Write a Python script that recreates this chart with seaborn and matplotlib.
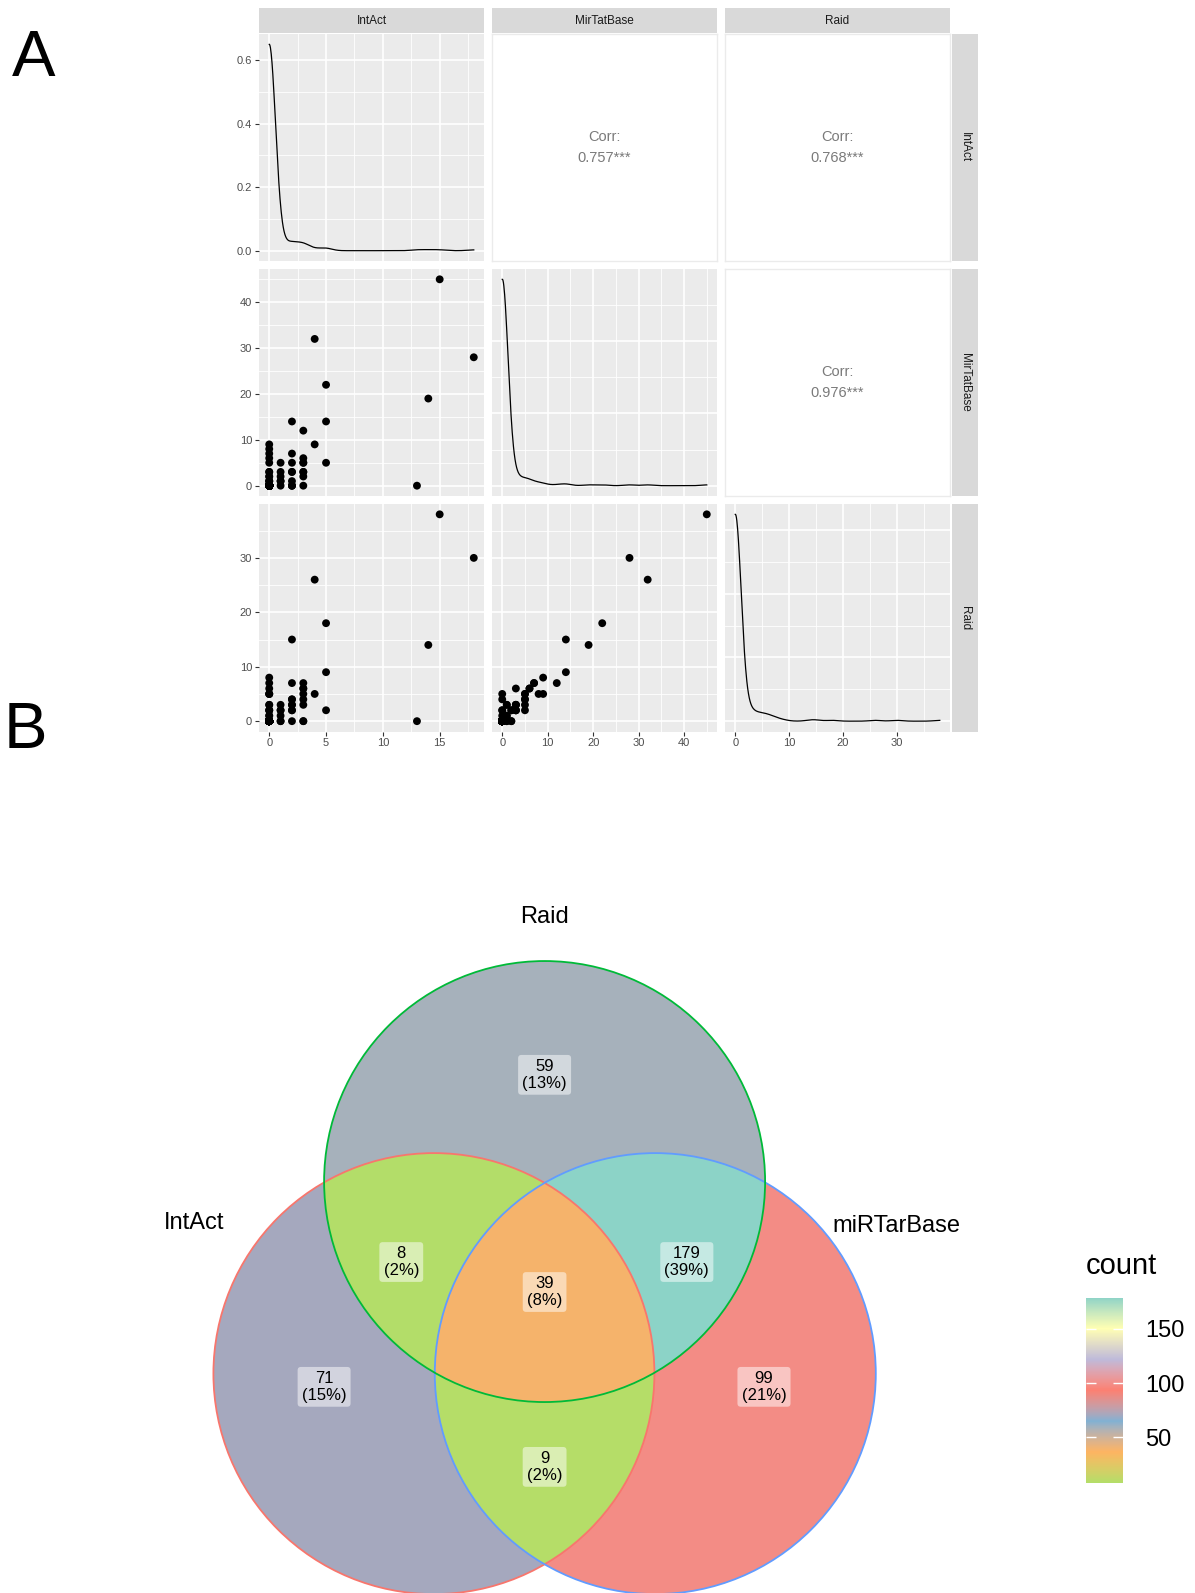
import numpy as np
import pandas as pd
import matplotlib
matplotlib.use("Agg")
import matplotlib.pyplot as plt
import seaborn as sns
from matplotlib.colors import ListedColormap, Normalize, to_rgb
from matplotlib.ticker import MultipleLocator, AutoMinorLocator, MaxNLocator, FormatStrFormatter
from matplotlib.patches import Circle

plt.rcParams['font.family'] = ['Liberation Sans', 'DejaVu Sans']

# ---------------- Panel A data (IntAct, MirTatBase, Raid per item) ----------------
var_names = ["IntAct", "MirTatBase", "Raid"]
intact     = [15, 18, 4, 5, 14, 2, 5, 3, 13, 4, 0, 5, 0, 2, 0, 3, 0, 3, 3, 2,
              1, 0, 2, 3, 0, 3, 2, 2, 2, 2, 1, 1, 1, 1, 1, 0, 0, 0, 0, 2,
              0, 3, 3, 0, 0, 0, 0, 0]
mirtatbase = [45, 28, 32, 22, 19, 14, 14, 12, 0, 9, 9, 5, 8, 7, 7, 6, 6, 5, 5, 5,
              5, 5, 3, 3, 3, 2, 1, 0, 0, 3, 0, 1, 2, 3, 1, 1, 2, 3, 0, 0,
              0, 0, 3, 0, 1, 2, 0, 1]
raid       = [38, 30, 26, 18, 14, 15, 9, 7, 0, 5, 8, 2, 5, 7, 7, 6, 6, 5, 4, 4,
              3, 5, 3, 6, 2, 0, 3, 0, 2, 2, 0, 1, 2, 2, 0, 1, 2, 3, 1, 4,
              5, 0, 3, 0, 0, 0, 2, 3]
copies     = [1, 1, 1, 1, 1, 1, 1, 1, 1, 1, 1, 1, 1, 1, 1, 1, 1, 1, 1, 1,
              1, 1, 1, 1, 1, 1, 1, 1, 1, 1, 1, 1, 1, 1, 1, 1, 1, 1, 1, 1,
              1, 1, 1, 250, 1, 1, 1, 1]
corr_values = {(0, 1): 0.757, (0, 2): 0.768, (1, 2): 0.976}

# ---------------- Panel B data (Venn) ----------------
set_names = ["IntAct", "miRTarBase", "Raid"]
# membership (IntAct, miRTarBase, Raid) -> count
region_members = [(1, 0, 0), (0, 1, 0), (0, 0, 1), (1, 0, 1), (0, 1, 1), (1, 1, 0), (1, 1, 1)]
region_counts  = [71, 99, 59, 8, 179, 9, 39]
palette_stops = ['#B3DE69', '#FDB462', '#80B1D3', '#FB8072', '#BEBADA', '#FFFFB3', '#8DD3C7']
cbar_ticks = [50, 100, 150]

# ---------------- figure ----------------
W, H = 1195, 1593
fig = plt.figure(figsize=(W / 100, H / 100), dpi=100)
fig.patch.set_facecolor('white')


def box(x0, y0, x1, y1):
    return [x0 / W, 1 - y1 / H, (x1 - x0) / W, (y1 - y0) / H]


df = pd.DataFrame({"IntAct": intact, "MirTatBase": mirtatbase, "Raid": raid, "copies": copies})
df = df.loc[df.index.repeat(df["copies"])].reset_index(drop=True)


def nrd0(x):
    x = np.asarray(x, float)
    hi = x.std(ddof=1)
    q75, q25 = np.percentile(x, [75, 25])
    lo = min(hi, (q75 - q25) / 1.34)
    if lo == 0:
        lo = hi
    return 0.9 * lo * len(x) ** -0.2


cols_x = [(259, 484), (492, 717), (725, 950)]
rows_y = [(34, 261), (269, 496), (504, 731.5)]
major_step = {"IntAct": 5, "MirTatBase": 10, "Raid": 10}


def lims(v):
    lo, hi = df[v].min(), df[v].max()
    r = hi - lo
    return lo - 0.05 * r, hi + 0.05 * r


def style_panel(ax):
    ax.set_facecolor('#EBEBEB')
    for s in ax.spines.values():
        s.set_visible(False)
    ax.grid(True, which='major', color='white', lw=1.2)
    ax.grid(True, which='minor', color='white', lw=0.6)
    ax.set_axisbelow(True)
    ax.set_xlabel('')
    ax.set_ylabel('')


for i in range(3):
    for j in range(3):
        x0, x1 = cols_x[j]
        y0, y1 = rows_y[i]
        ax = fig.add_axes(box(x0, y0, x1, y1))
        vx = var_names[j]
        vy = var_names[i]
        if i < j:
            ax.set_facecolor('white')
            for s in ax.spines.values():
                s.set_color('#EBEBEB')
                s.set_linewidth(1)
            ax.set_xticks([])
            ax.set_yticks([])
            ax.text(0.5, 0.5, "Corr:\n%.3f***" % corr_values[(i, j)], transform=ax.transAxes,
                    ha='center', va='center', fontsize=10.5, color='#7a7a7a', linespacing=1.55)
            continue
        if i == j:
            x = df[vx].to_numpy(float)
            sns.kdeplot(x=x, ax=ax, bw_method=nrd0(x) / x.std(ddof=1), cut=0, gridsize=512,
                        color='black', lw=0.9)
            yd = ax.lines[0].get_ydata()
            r = yd.max() - min(yd.min(), 0)
            ax.set_ylim(min(yd.min(), 0) - 0.05 * r, yd.max() + 0.05 * r)
            ax.yaxis.set_major_locator(MaxNLocator(nbins=4, steps=[1, 2, 5, 10]))
            ax.yaxis.set_major_formatter(FormatStrFormatter('%.1f'))
        else:
            sns.scatterplot(data=df, x=vx, y=vy, ax=ax, color='black', s=32, edgecolor='none', linewidth=0)
            ax.set_ylim(*lims(vy))
            ax.yaxis.set_major_locator(MultipleLocator(major_step[vy]))
        ax.set_xlim(*lims(vx))
        ax.xaxis.set_major_locator(MultipleLocator(major_step[vx]))
        ax.xaxis.set_minor_locator(AutoMinorLocator(2))
        ax.yaxis.set_minor_locator(AutoMinorLocator(2))
        style_panel(ax)
        ax.tick_params(which='minor', length=0)
        ax.tick_params(which='major', length=3, width=0.8, color='#333333', labelsize=8,
                       labelcolor='#4d4d4d', pad=2)
        if j != 0:
            ax.tick_params(axis='y', which='major', length=0, labelleft=False)
        if i != 2:
            ax.tick_params(axis='x', which='major', length=0, labelbottom=False)

# strips
for j, name in enumerate(var_names):
    x0, x1 = cols_x[j]
    sax = fig.add_axes(box(x0, 8, x1, 33))
    sax.set_facecolor('#D9D9D9')
    sax.set_xticks([]); sax.set_yticks([])
    for s in sax.spines.values():
        s.set_visible(False)
    sax.text(0.5, 0.5, name, ha='center', va='center', fontsize=8.5, color='#1a1a1a', transform=sax.transAxes)
for i, name in enumerate(var_names):
    y0, y1 = rows_y[i]
    sax = fig.add_axes(box(951.5, y0, 978, y1))
    sax.set_facecolor('#D9D9D9')
    sax.set_xticks([]); sax.set_yticks([])
    for s in sax.spines.values():
        s.set_visible(False)
    sax.text(0.5, 0.5, name, ha='center', va='center', fontsize=8.5, color='#1a1a1a',
             rotation=-90, transform=sax.transAxes)


# ---------------- colour ramp interpolated in CIE Lab (as R's gradient palettes) ----------------
_M = np.array([[0.4124564, 0.3575761, 0.1804375],
               [0.2126729, 0.7151522, 0.0721750],
               [0.0193339, 0.1191920, 0.9503041]])
_WHITE = np.array([0.95047, 1.0, 1.08883])


def rgb2lab(c):
    c = np.asarray(c, float)
    lin = np.where(c <= 0.04045, c / 12.92, ((c + 0.055) / 1.055) ** 2.4)
    xyz = _M @ lin / _WHITE
    f = np.where(xyz > (6 / 29) ** 3, np.cbrt(xyz), xyz / (3 * (6 / 29) ** 2) + 4 / 29)
    return np.array([116 * f[1] - 16, 500 * (f[0] - f[1]), 200 * (f[1] - f[2])])


def lab2rgb(lab):
    L, a, b = lab
    fy = (L + 16) / 116
    fx = fy + a / 500
    fz = fy - b / 200
    f = np.array([fx, fy, fz])
    xyz = np.where(f > 6 / 29, f ** 3, 3 * (6 / 29) ** 2 * (f - 4 / 29)) * _WHITE
    lin = np.linalg.solve(_M, xyz)
    lin = np.clip(lin, 0, 1)
    c = np.where(lin <= 0.0031308, 12.92 * lin, 1.055 * lin ** (1 / 2.4) - 0.055)
    return np.clip(c, 0, 1)


stops_lab = [rgb2lab(to_rgb(c)) for c in palette_stops]
ramp = []
for t in np.linspace(0, 1, 512):
    pos = t * (len(stops_lab) - 1)
    k = min(int(pos), len(stops_lab) - 2)
    u = pos - k
    ramp.append(lab2rgb((1 - u) * stops_lab[k] + u * stops_lab[k + 1]))
cmap = ListedColormap(ramp)

# ---------------- Panel B: Venn ----------------
R_PX = 220.5
OX, OY = 544.6, 1373.6
vx0, vy0, vx1, vy1 = 120, 880, 1020, 1593
vax = fig.add_axes(box(vx0, vy0, vx1, vy1))
xl = ((vx0 - OX) / R_PX, (vx1 - OX) / R_PX)
yl = ((OY - vy1) / R_PX, (OY - vy0) / R_PX)
centers = {"IntAct": (-0.502, 0.0), "miRTarBase": (0.502, 0.0), "Raid": (0.0, 0.871)}
edge_cols = {"IntAct": '#F8766D', "miRTarBase": '#619CFF', "Raid": '#00BA38'}

gx = np.linspace(xl[0], xl[1], 1800)
gy = np.linspace(yl[0], yl[1], 1426)
GX, GY = np.meshgrid(gx, gy)
inside = [((GX - centers[s][0]) ** 2 + (GY - centers[s][1]) ** 2) <= 1.0 for s in set_names]
Z = np.full(GX.shape, np.nan)
for mem, cnt in zip(region_members, region_counts):
    mask = np.ones(GX.shape, bool)
    for k in range(3):
        mask &= (inside[k] == bool(mem[k]))
    Z[mask] = cnt

norm = Normalize(vmin=min(region_counts), vmax=max(region_counts))
im = vax.imshow(Z, extent=(xl[0], xl[1], yl[0], yl[1]), origin='lower', cmap=cmap, norm=norm,
                interpolation='nearest', aspect='auto')
for s in set_names:
    vax.add_patch(Circle(centers[s], 1.0, fill=False, ec=edge_cols[s], lw=1.3))
vax.set_xlim(*xl)
vax.set_ylim(*yl)
vax.axis('off')

label_pos = {(1, 0, 0): (-1.0, -0.06), (0, 1, 0): (0.995, -0.06), (0, 0, 1): (0.0, 1.355),
             (1, 0, 1): (-0.650, 0.506), (0, 1, 1): (0.645, 0.506), (1, 1, 0): (0.0, -0.423),
             (1, 1, 1): (0.0, 0.370)}
total = sum(region_counts)
for mem, cnt in zip(region_members, region_counts):
    px, py = label_pos[mem]
    vax.text(px, py, "%d\n(%d%%)" % (cnt, round(100 * cnt / total)), ha='center', va='center',
             fontsize=12, color='black', linespacing=1.12,
             bbox=dict(boxstyle='round,pad=0.25,rounding_size=0.2', fc='white', ec='none', alpha=0.5))

set_label_pos = {"Raid": (0.0, 2.071), "IntAct": (-1.59, 0.683), "miRTarBase": (1.594, 0.669)}
for s in set_names:
    vax.text(*set_label_pos[s], s, ha='center', va='center', fontsize=17, color='black')

# colorbar
cax = fig.add_axes(box(1086, 1297.5, 1123, 1483))
cb = fig.colorbar(im, cax=cax)
cb.outline.set_visible(False)
cb.set_ticks(cbar_ticks)
cax.tick_params(direction='in', length=7, width=1, color='white', left=True, right=True,
                labelleft=False, labelright=True, labelsize=17, labelcolor='black', pad=16)
fig.text(1086 / W, 1 - 1266 / H, "count", fontsize=21, ha='left', va='center')

# panel letters
fig.text(33.5 / W, 1 - 58.5 / H, "A", fontsize=47, ha='center', va='center')
fig.text(25.4 / W, 1 - 731 / H, "B", fontsize=47, ha='center', va='center')

fig.savefig("out.png", dpi=100, facecolor='white')
